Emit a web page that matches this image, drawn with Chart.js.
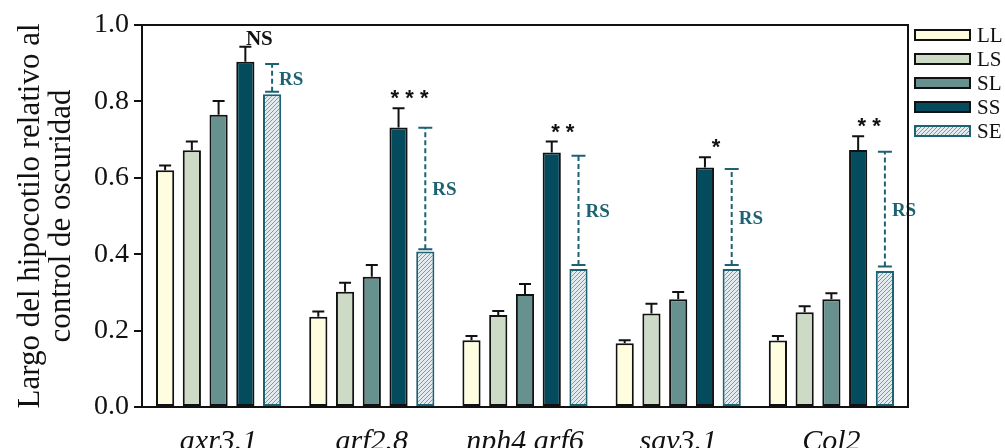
<!DOCTYPE html>
<html>
<head>
<meta charset="utf-8">
<script src="https://cdn.jsdelivr.net/npm/chart.js@4.4.1/dist/chart.umd.min.js"></script>
<style>
  body { margin: 0; background: #fff; }
  #wrap { width: 1005px; height: 448px; position: relative; }
</style>
</head>
<body>
<div id="wrap"><canvas id="hypoChart"></canvas></div>
<script>
// Data
const genotypes = ['axr3.1', 'arf2.8', 'nph4 arf6', 'sav3.1', 'Col2'];
const seriesNames = ['LL', 'LS', 'SL', 'SS', 'SE'];

const llValues = [0.620, 0.236, 0.175, 0.167, 0.174];
const lsValues = [0.672, 0.302, 0.241, 0.245, 0.248];
const slValues = [0.765, 0.341, 0.296, 0.282, 0.282];
const ssValues = [0.904, 0.732, 0.666, 0.627, 0.673];
const seValues = [0.819, 0.407, 0.361, 0.361, 0.356];

// error bar sizes (upper only)
const llErr = [0.012, 0.014, 0.011, 0.008, 0.012];
const lsErr = [0.023, 0.023, 0.010, 0.025, 0.016];
const slErr = [0.036, 0.031, 0.026, 0.019, 0.016];
const ssErr = [0.039, 0.050, 0.029, 0.027, 0.036];

// dashed "RS" range above SE bars
const rsLow  = [0.825, 0.413, 0.372, 0.372, 0.368];
const rsHigh = [0.898, 0.731, 0.658, 0.623, 0.668];

const sigLabels = ['NS', '* * *', '* *', '*', '* *'];
const yTicks = [0, 0.2, 0.4, 0.6, 0.8, 1.0];

const serif = "'Liberation Serif', 'Times New Roman', serif";
const teal = '#1d6273';

// hatched fill for SE
function makeHatch() {
    const c = document.createElement('canvas');
    c.width = 4; c.height = 4;
    const g = c.getContext('2d');
    g.fillStyle = '#e4ebee';
    g.fillRect(0, 0, 4, 4);
    g.strokeStyle = '#7d9ba6';
    g.lineWidth = 1;
    g.beginPath();
    g.moveTo(-1, 5); g.lineTo(5, -1);
    g.moveTo(-1, 1); g.lineTo(1, -1);
    g.moveTo(3, 5); g.lineTo(5, 3);
    g.stroke();
    return document.getElementById('hypoChart').getContext('2d').createPattern(c, 'repeat');
}
const hatch = makeHatch();

const fills = ['#fefde0', '#cddbc6', '#67918f', '#054b5e', hatch];
const borders = ['#111', '#111', '#111', '#111', teal];
const values = [llValues, lsValues, slValues, ssValues, seValues];
const errors = [llErr, lsErr, slErr, ssErr];

const extras = {
    id: 'extras',
    afterDatasetsDraw(chart) {
        const ctx = chart.ctx;
        const y = chart.scales.y;
        const area = chart.chartArea;
        ctx.save();

        // error bars
        ctx.strokeStyle = '#111';
        ctx.lineWidth = 2;
        errors.forEach((errs, d) => {
            const meta = chart.getDatasetMeta(d);
            meta.data.forEach((bar, i) => {
                const top = y.getPixelForValue(values[d][i] + errs[i]);
                ctx.beginPath();
                ctx.moveTo(bar.x, bar.y);
                ctx.lineTo(bar.x, top);
                ctx.moveTo(bar.x - 6, top);
                ctx.lineTo(bar.x + 6, top);
                ctx.stroke();
            });
        });

        // RS dashed ranges
        const seMeta = chart.getDatasetMeta(4);
        ctx.strokeStyle = teal;
        ctx.fillStyle = teal;
        ctx.font = 'bold 19px ' + serif;
        ctx.textAlign = 'left';
        ctx.textBaseline = 'middle';
        seMeta.data.forEach((bar, i) => {
            const lo = y.getPixelForValue(rsLow[i]);
            const hi = y.getPixelForValue(rsHigh[i]);
            ctx.setLineDash([5, 3]);
            ctx.beginPath();
            ctx.moveTo(bar.x, lo);
            ctx.lineTo(bar.x, hi);
            ctx.stroke();
            ctx.setLineDash([]);
            ctx.beginPath();
            ctx.moveTo(bar.x - 7, lo); ctx.lineTo(bar.x + 7, lo);
            ctx.moveTo(bar.x - 7, hi); ctx.lineTo(bar.x + 7, hi);
            ctx.stroke();
            ctx.fillText('RS', bar.x + 7, (lo + hi) / 2 + 2);
        });

        // significance marks above SS
        const ssMeta = chart.getDatasetMeta(3);
        ctx.fillStyle = '#111';
        ctx.textAlign = 'center';
        ctx.textBaseline = 'alphabetic';
        ssMeta.data.forEach((bar, i) => {
            const top = y.getPixelForValue(ssValues[i] + ssErr[i]);
            if (sigLabels[i] === 'NS') {
                ctx.font = 'bold 21px ' + serif;
                ctx.fillText('NS', bar.x + 14, top - 2);
            } else {
                ctx.font = 'bold 22px "Liberation Sans", Arial, sans-serif';
                ctx.fillText(sigLabels[i], bar.x + 11, top - 3);
            }
        });

        // frame top and right
        ctx.strokeStyle = '#111';
        ctx.lineWidth = 2;
        ctx.beginPath();
        ctx.moveTo(area.left, area.top);
        ctx.lineTo(area.right, area.top);
        ctx.lineTo(area.right, area.bottom);
        ctx.stroke();

        // legend
        ctx.font = '21px ' + serif;
        ctx.textAlign = 'left';
        ctx.textBaseline = 'middle';
        seriesNames.forEach((name, k) => {
            const by = 30 + k * 24;
            ctx.fillStyle = fills[k];
            ctx.fillRect(915, by, 55, 10);
            ctx.strokeStyle = borders[k];
            ctx.lineWidth = 2;
            ctx.strokeRect(915, by, 55, 10);
            ctx.fillStyle = '#111';
            ctx.fillText(name, 977, by + 6);
        });
        ctx.restore();
    }
};

const ctx = document.getElementById('hypoChart').getContext('2d');
const hypoChart = new Chart(ctx, {
    type: 'bar',
    data: {
        labels: genotypes,
        datasets: seriesNames.map((name, k) => ({
            label: name,
            data: values[k],
            backgroundColor: fills[k],
            borderColor: borders[k],
            borderWidth: 2,
            borderSkipped: false,
            categoryPercentage: 0.873,
            barPercentage: 0.68
        }))
    },
    options: {
        responsive: true,
        maintainAspectRatio: false,
        animation: false,
        layout: { padding: { top: 25, right: 97, left: 0, bottom: 0 } },
        plugins: { legend: { display: false }, tooltip: { enabled: false } },
        scales: {
            x: {
                grid: { display: false },
                border: { display: true, color: '#111', width: 2 },
                ticks: {
                    color: '#111',
                    padding: 9,
                    maxRotation: 0,
                    font: { family: serif, size: 30, style: 'italic' }
                },
                afterFit: (scale) => { scale.height = 41; }
            },
            y: {
                min: 0,
                max: 1.0,
                afterBuildTicks: (scale) => { scale.ticks = yTicks.map(v => ({ value: v })); },
                grid: { display: true, drawOnChartArea: false, drawTicks: true, tickLength: 8, color: '#111', lineWidth: 2 },
                border: { display: true, color: '#111', width: 2 },
                ticks: {
                    color: '#111',
                    padding: 5,
                    font: { family: serif, size: 28 },
                    callback: (v) => Number(v).toFixed(1)
                },
                title: {
                    display: true,
                    text: ['Largo del hipocotilo relativo al', 'control de oscuridad'],
                    color: '#111',
                    font: { family: serif, size: 31, lineHeight: 1.0 },
                    padding: { top: 15, bottom: 0 }
                },
                afterFit: (scale) => { scale.width = 142; }
            }
        }
    },
    plugins: [extras]
});
</script>
</body>
</html>
